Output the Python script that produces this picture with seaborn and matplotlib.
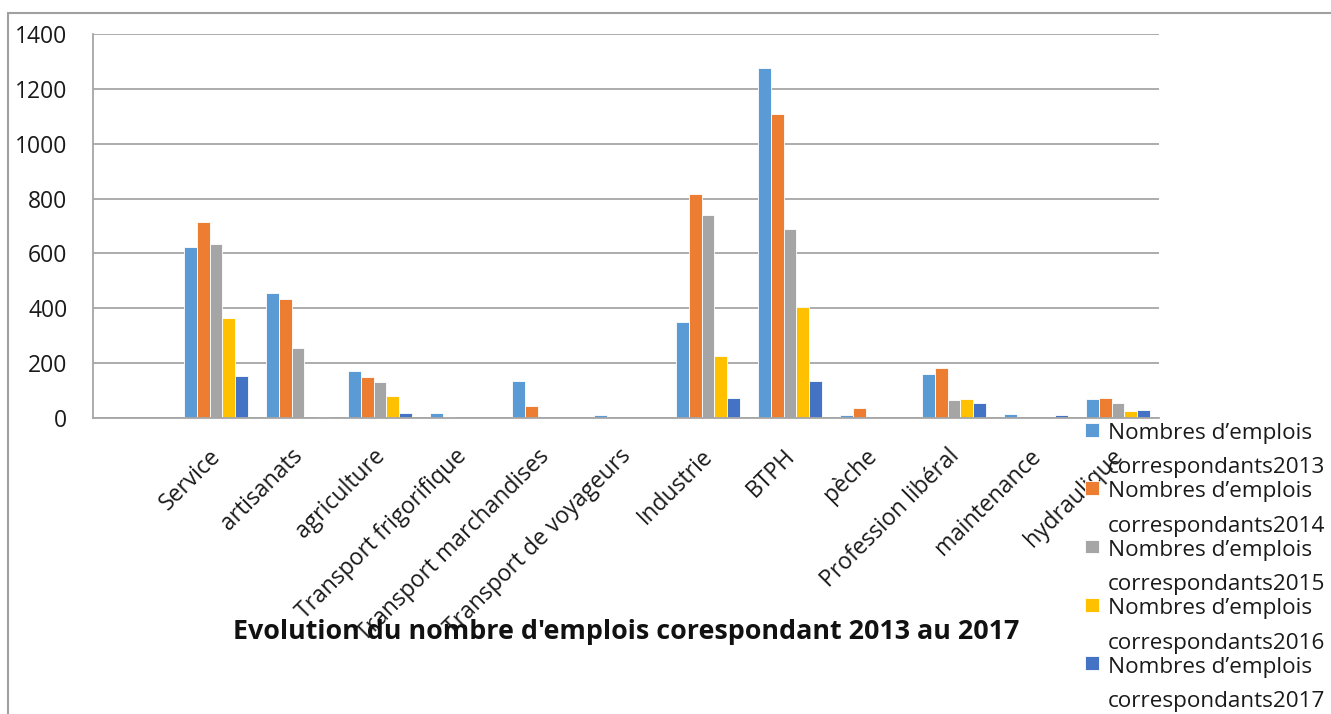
import numpy as np
import pandas as pd
import matplotlib
matplotlib.use("Agg")
import matplotlib.pyplot as plt
from matplotlib.patches import Rectangle
from matplotlib.legend_handler import HandlerPatch
from matplotlib.ticker import FixedLocator
from matplotlib.transforms import ScaledTranslation
import seaborn as sns

# Sectors (the first slot of the axis is left empty)
categories = ["Service", "artisanats", "agriculture", "Transport frigorifique",
              "Transport marchandises", "Transport de voyageurs", "Industrie",
              "BTPH", "pèche", "Profession libéral", "maintenance", "hydraulique"]
years = ["2013", "2014", "2015", "2016", "2017"]

emplois_2013 = [622, 455, 171, 20, 135, 12, 350, 1275, 11, 159, 13, 69]
emplois_2014 = [716, 434, 148, 5, 43, 0, 818, 1107, 35, 181, 0, 72]
emplois_2015 = [633, 256, 130, 0, 0, 0, 741, 690, 0, 64, 0, 53]
emplois_2016 = [366, 0, 80, 0, 0, 0, 227, 404, 0, 69, 0, 27]
emplois_2017 = [154, 5, 19, 0, 0, 0, 72, 134, 0, 55, 10, 29]

yticks = [0, 200, 400, 600, 800, 1000, 1200, 1400]
series_label = "Nombres d\u2019emplois\ncorrespondants"
title = "Evolution du nombre d'emplois corespondant 2013 au 2017"
colors = ["#5B9BD5", "#ED7D31", "#A5A5A5", "#FFC000", "#4472C4"]

values = [emplois_2013, emplois_2014, emplois_2015, emplois_2016, emplois_2017]
rows = []
for yr, vals in zip(years, values):
    for cat, v in zip(categories, vals):
        rows.append({"secteur": cat, "serie": series_label + yr, "emplois": v})
df = pd.DataFrame(rows)

sns.set_style("white")
plt.rcParams["font.family"] = ["Open Sans", "DejaVu Sans"]

fig = plt.figure(figsize=(13.31, 7.14), dpi=100)
ax = fig.add_axes([93 / 1331, 1 - 418 / 714, (1159 - 93) / 1331, (418 - 34) / 714])

order = [""] + categories
hue_order = [series_label + y for y in years]
sns.barplot(data=df, x="secteur", y="emplois", hue="serie", order=order,
            hue_order=hue_order, palette=colors, width=0.77, ax=ax,
            edgecolor="white", linewidth=0.6, errorbar=None, saturation=1)

ax.set_xlim(-0.5, len(order) - 0.5)
ax.set_ylim(0, 1400)
ax.set_yticks(yticks)
ax.set_xlabel("")
ax.set_ylabel("")

grid_c = "#A6A6A6"
ax.yaxis.grid(True, color=grid_c, linewidth=1.3)
ax.set_axisbelow(True)
for side in ["top", "right"]:
    ax.spines[side].set_visible(False)
for side in ["left", "bottom"]:
    ax.spines[side].set_color(grid_c)
    ax.spines[side].set_linewidth(1.3)

ax.tick_params(axis="y", length=0, pad=18.5, labelsize=16.5, labelcolor="#1a1a1a")
ax.set_xticks(range(len(order)))
ax.set_xticklabels(order, rotation=45, ha="right", rotation_mode="anchor",
                   fontsize=16.5, color="#1a1a1a")
ax.tick_params(axis="x", which="major", length=0, pad=16)
shift = ScaledTranslation(-7 / 100, -4 / 100, fig.dpi_scale_trans)
for lab in ax.get_xticklabels():
    lab.set_transform(lab.get_transform() + shift)
ax.xaxis.set_minor_locator(FixedLocator(np.arange(-0.5, len(order), 1.0)))
ax.tick_params(axis="x", which="minor", length=7, width=1.3, color=grid_c)


def top_square(legend, orig_handle, xdescent, ydescent, width, height, fontsize):
    # square aligned with the first line of a two-line label
    s = 0.62 * fontsize
    return Rectangle((-xdescent, 0.98 * fontsize), s, s)


handles, labels = ax.get_legend_handles_labels()
if ax.get_legend() is not None:
    ax.get_legend().remove()
leg = fig.legend(handles, labels, loc="upper left",
                 bbox_to_anchor=(1085 / 1331, 1 - 423 / 714),
                 frameon=False, fontsize=16.2, handlelength=0.62, handleheight=1.0,
                 handletextpad=0.38, labelspacing=0.14, borderpad=0, borderaxespad=0,
                 handler_map={h: HandlerPatch(patch_func=top_square) for h in handles})
for t in leg.get_texts():
    t.set_linespacing(1.83)
    t.set_color("#1a1a1a")

fig.text(626 / 1331, 1 - 632 / 714, title, ha="center", va="center",
         fontsize=19.4, fontweight="bold", color="#111111")

# Outer chart frame
fig.patches.append(Rectangle((8 / 1331, -0.2), 1.2, 1 - 13 / 714 + 0.2,
                             transform=fig.transFigure, fill=False,
                             edgecolor="#A0A0A0", linewidth=1.5))

fig.savefig("out.png", dpi=100)
